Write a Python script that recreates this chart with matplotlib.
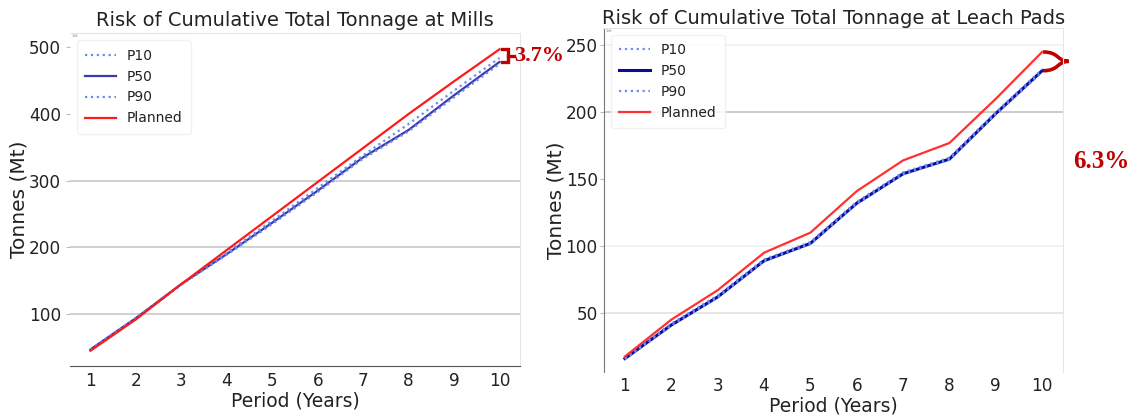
import matplotlib
matplotlib.use('Agg')
import matplotlib.pyplot as plt
from matplotlib.path import Path
from matplotlib.patches import PathPatch

# Cumulative tonnage per period (Mt)
periods = [1, 2, 3, 4, 5, 6, 7, 8, 9, 10]

mills_p10 = [47, 94, 145, 192, 240, 289, 338, 385, 435, 484]
mills_p50 = [47, 94, 145, 190, 237, 285, 335, 376, 428, 478]
mills_p90 = [46, 93, 144, 189, 235, 283, 333, 374, 425, 475]
mills_planned = [45, 92, 145, 196, 247, 298, 349, 400, 449, 497]

pads_p10 = [16.5, 42, 63, 90, 103, 133, 155, 166, 200, 232]
pads_p50 = [16, 41, 62, 89, 102, 132, 154, 165, 199, 231]
pads_p90 = [15.5, 40.5, 61.5, 88.5, 101.5, 131.5, 153.5, 164.5, 198.5, 230]
pads_planned = [17.5, 45, 67, 95, 110, 141, 164, 177, 210, 245]

mills_gap = '3.7%'
pads_gap = '6.3%'

plt.rcParams['font.family'] = 'DejaVu Sans'

fig = plt.figure(figsize=(11.38, 4.16), dpi=100)
ax1 = fig.add_axes([0.0615, 0.120, 0.3954, 0.800])
ax2 = fig.add_axes([0.5308, 0.106, 0.4033, 0.827])

dot_col = '#6a8cf0'
red = '#c00000'


def draw_panel(ax, p10, p50, p90, planned, p50_col, p50_lw, plan_col):
    ax.plot(periods, p10, linestyle=':', color=dot_col, lw=1.6, label='P10', zorder=3)
    ax.plot(periods, p50, color=p50_col, lw=p50_lw, label='P50', zorder=2)
    ax.plot(periods, p90, linestyle=':', color=dot_col, lw=1.6, label='P90', zorder=3)
    ax.plot(periods, planned, color=plan_col, lw=1.6, label='Planned', zorder=4)
    ax.set_xticks(periods)
    ax.set_xlim(0.55, 10.45)
    ax.tick_params(axis='both', labelsize=12.2, length=3, color='#bbbbbb',
                   labelcolor='#222222')
    ax.tick_params(axis='x', length=0, pad=4)
    ax.set_xlabel('Period (Years)', fontsize=13.5, color='#222222', labelpad=1)
    ax.set_ylabel('Tonnes (Mt)', fontsize=14.5, color='#222222', labelpad=0)
    leg = ax.legend(loc='upper left', fontsize=10, handlelength=2.2,
                    frameon=True, borderpad=0.6, fancybox=True)
    leg.get_frame().set_edgecolor('#eeeeee')
    leg.get_frame().set_linewidth(1.0)
    for t in leg.get_texts():
        t.set_color('#222222')
    ax.text(0.004, 0.997, '1e6', transform=ax.transAxes, fontsize=2.5,
            color='#777777', va='top')
    for s in ax.spines.values():
        s.set_color('#e6e6e6')


# Mills panel
draw_panel(ax1, mills_p10, mills_p50, mills_p90, mills_planned, '#3a3aae', 1.6, '#ff1a1a')
ax1.set_title('Risk of Cumulative Total Tonnage at Mills', fontsize=14, color='#222222', pad=5)
ax1.set_ylim(22, 521)
ax1.set_yticks([100, 200, 300, 400, 500])
for y in [100, 200, 300]:
    ax1.axhline(y, color='#c8c8c8', lw=1.2, zorder=0)
ax1.spines['bottom'].set_color('#555555')
ax1.spines['left'].set_visible(False)

# Leach pads panel
draw_panel(ax2, pads_p10, pads_p50, pads_p90, pads_planned, '#0a0a9c', 2.2, '#ff3030')
ax2.set_title('Risk of Cumulative Total Tonnage at Leach Pads', fontsize=14, color='#222222', pad=3)
ax2.set_ylim(6, 263)
ax2.set_yticks([50, 100, 150, 200, 250])
ax2.tick_params(axis='y', pad=1.5)
for y, c in [(50, '#e2e2e2'), (100, '#f0f0f0'), (200, '#c4c4c4'), (250, '#f0f0f0')]:
    ax2.axhline(y, color=c, lw=1.2, zorder=0)
ax2.spines['left'].set_color('#777777')
ax2.spines['bottom'].set_visible(False)

# Bracket for the mills gap
x0, x1 = periods[-1] + 0.06, periods[-1] + 0.19
ytop, ybot = mills_planned[-1], mills_p50[-1]
ymid = (ytop + ybot) / 2
ax1.plot([x0, x1, x1, x0], [ytop, ytop, ybot, ybot], color=red, lw=2.4,
         clip_on=False, solid_joinstyle='miter')
ax1.plot([x1, x1 + 0.14], [ymid, ymid], color=red, lw=2.4, clip_on=False)
ax1.text(x1 + 0.13, ymid, mills_gap, color=red, fontsize=16, fontweight='bold',
         family='Liberation Serif', va='center', ha='left', clip_on=False)

# Curly brace for the leach pads gap
bx = periods[-1] + 0.02
ytop, ybot = pads_planned[-1], pads_p50[-1]
ymid = (ytop + ybot) / 2
brace = Path(
    [(bx, ytop), (bx + 0.35, ytop), (bx + 0.3, ymid), (bx + 0.55, ymid),
     (bx + 0.3, ymid), (bx + 0.35, ybot), (bx, ybot)],
    [Path.MOVETO, Path.CURVE4, Path.CURVE4, Path.CURVE4,
     Path.CURVE4, Path.CURVE4, Path.CURVE4])
ax2.add_patch(PathPatch(brace, fill=False, edgecolor=red, lw=2.6, clip_on=False))
ax2.text(11.28, 163, pads_gap, color=red, fontsize=18, fontweight='bold',
         family='Liberation Serif', va='center', ha='center', clip_on=False)

fig.savefig('out.png', dpi=100)
